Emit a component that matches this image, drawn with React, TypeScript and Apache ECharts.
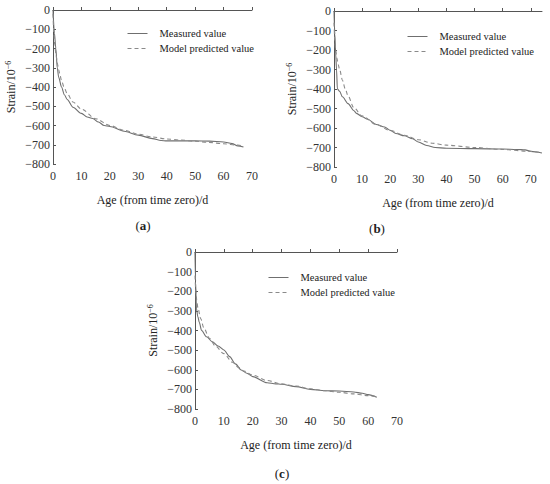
import React, { useEffect, useRef } from "react";
import * as echarts from "echarts";

// Panel (a)
const ageMeasA = [0, 0.5, 1, 1.5, 2, 3, 4, 5, 7, 10, 12, 14, 16, 18, 20, 25, 30, 35, 38, 40, 45, 50, 55, 60, 63, 65, 67];
const measuredA = [0, -120, -200, -300, -350, -400, -440, -465, -505, -537, -556, -564, -582, -600, -605, -630, -650, -668, -678, -680, -680, -680, -681, -686, -694, -706, -712];
const agePredA = [0, 0.3, 0.6, 1, 1.5, 2, 2.5, 3, 4, 5, 7, 10, 15, 20, 25, 30, 35, 40, 45, 50, 55, 60, 65, 67];
const predictedA = [-20, -120, -180, -225, -275, -310, -340, -368, -405, -435, -478, -515, -565, -600, -625, -645, -660, -670, -676, -682, -688, -695, -702, -706];

// Panel (b)
const ageMeasB = [0, 0.3, 0.6, 0.9, 1.2, 2, 3, 5, 7, 8, 10, 12, 15, 18, 20, 22, 25, 28, 30, 33, 36, 40, 50, 60, 65, 68, 70, 74];
const measuredB = [0, -120, -220, -300, -400, -412, -440, -475, -510, -525, -542, -555, -582, -595, -612, -628, -640, -655, -672, -690, -700, -704, -706, -708, -710, -712, -720, -728];
const agePredB = [0, 0.3, 0.6, 1, 1.5, 2, 3, 4, 5, 7, 10, 15, 20, 25, 30, 35, 40, 50, 60, 70, 73];
const predictedB = [-60, -150, -200, -240, -275, -300, -355, -400, -435, -495, -538, -582, -613, -637, -660, -678, -688, -700, -710, -720, -724];

// Panel (c)
const ageMeasC = [0, 0.2, 0.5, 1, 1.5, 2.3, 4, 6, 8, 10, 12, 14, 16, 18, 20, 25, 28, 30, 35, 40, 45, 50, 55, 58, 60, 63];
const measuredC = [0, -150, -290, -330, -360, -400, -432, -457, -479, -499, -533, -570, -601, -618, -635, -666, -672, -674, -686, -700, -707, -708, -713, -720, -727, -740];
const agePredC = [0, 0.3, 0.6, 1, 2, 3, 5, 7, 10, 13, 15, 17, 20, 25, 30, 35, 40, 45, 50, 55, 60, 63];
const predictedC = [-120, -200, -245, -285, -340, -385, -440, -478, -518, -562, -588, -607, -628, -655, -672, -683, -697, -707, -715, -723, -732, -737];

const xTicks = [0, 10, 20, 30, 40, 50, 60, 70];
const yTicks = [0, -100, -200, -300, -400, -500, -600, -700, -800];
const seriesNames = ["Measured value", "Model predicted value"];
const panelLabels = ["a", "b", "c"];
const xMaxes = [70, 74, 70];

const FONT = "'Liberation Serif', 'Times New Roman', Times, serif";

function zip(xs: number[], ys: number[]) {
  return xs.map((x, i) => [x, ys[i]]);
}

export default function App() {
  const ref = useRef<HTMLDivElement>(null);
  useEffect(() => {
    if (!ref.current) return;
    const chart = echarts.init(ref.current, null, { renderer: "svg" });

    const grids = [
      { left: 53, top: 10, width: 199, height: 154 },
      { left: 334, top: 11, width: 208, height: 156 },
      { left: 195, top: 252, width: 202, height: 157 },
    ];
    const legendPos = [
      { left: 127, top: 28 },
      { left: 407, top: 31 },
      { left: 268, top: 272 },
    ];
    const captionPos = [
      { x: 143, y: 225 },
      { x: 377, y: 228 },
      { x: 282, y: 473 },
    ];
    const data = [
      [zip(ageMeasA, measuredA), zip(agePredA, predictedA)],
      [zip(ageMeasB, measuredB), zip(agePredB, predictedB)],
      [zip(ageMeasC, measuredC), zip(agePredC, predictedC)],
    ];

    const axisLine = { show: true, lineStyle: { color: "#555", width: 1 } };
    const axisTick = { show: true, inside: true, length: 3, lineStyle: { color: "#555" } };
    const minus = (v: number) => String(v).replace("-", "\u2212");

    const xAxis = grids.map((_, i) => ({
      type: "value",
      gridIndex: i,
      min: 0,
      max: xMaxes[i],
      interval: 10,
      axisLine,
      axisTick,
      splitLine: { show: false },
      axisLabel: {
        margin: 6,
        fontFamily: FONT,
        fontSize: 12,
        color: "#333",
        showMaxLabel: xMaxes[i] === xTicks[xTicks.length - 1],
        formatter: (v: number) => (xTicks.includes(v) ? String(v) : ""),
      },
      name: "Age (from time zero)/d",
      nameLocation: "middle",
      nameGap: 30,
      nameTextStyle: { fontFamily: FONT, fontSize: 12, color: "#222" },
    }));

    const yAxis = grids.map((_, i) => ({
      type: "value",
      gridIndex: i,
      min: yTicks[yTicks.length - 1],
      max: yTicks[0],
      interval: 100,
      axisLine,
      axisTick,
      splitLine: { show: false },
      axisLabel: {
        margin: 3,
        fontFamily: FONT,
        fontSize: 12,
        color: "#333",
        formatter: (v: number) => minus(v),
      },
      name: "{a|Strain/10}{s|\u22126}",
      nameLocation: "middle",
      nameGap: 35,
      nameTextStyle: {
        fontFamily: FONT,
        color: "#222",
        rich: {
          a: { fontFamily: FONT, fontSize: 12, color: "#222" },
          s: { fontFamily: FONT, fontSize: 8, color: "#222", verticalAlign: "top", padding: [0, 0, 6, 0] },
        },
      },
    }));

    const series: any[] = [];
    grids.forEach((_, i) => {
      series.push({
        name: seriesNames[0],
        type: "line",
        xAxisIndex: i,
        yAxisIndex: i,
        data: data[i][0],
        symbol: "none",
        showSymbol: false,
        smooth: 0.3,
        smoothMonotone: "x",
        lineStyle: { color: "#6f6f6f", width: 1.1, type: "solid" },
        itemStyle: { color: "#6f6f6f" },
      });
      series.push({
        name: seriesNames[1],
        type: "line",
        xAxisIndex: i,
        yAxisIndex: i,
        data: data[i][1],
        symbol: "none",
        showSymbol: false,
        smooth: 0.3,
        smoothMonotone: "x",
        lineStyle: { color: "#8a8a8a", width: 1.1, type: [4, 3] },
        itemStyle: { color: "#8a8a8a" },
      });
    });

    const legend = legendPos.map((p) => ({
      left: p.left,
      top: p.top,
      padding: 0,
      orient: "vertical",
      itemWidth: 20,
      itemHeight: 12,
      itemGap: 4,
      selectedMode: false,
      data: seriesNames,
      itemStyle: { opacity: 0 },
      lineStyle: { width: 1 },
      textStyle: { fontFamily: FONT, fontSize: 10.5, color: "#222", padding: [0, 0, 0, 7] },
    }));

    const graphic = captionPos.map((p, i) => ({
      type: "text",
      x: p.x,
      y: p.y,
      style: {
        text: `({b|${panelLabels[i]}})`,
        fontFamily: FONT,
        fontSize: 13,
        fill: "#222",
        align: "center",
        verticalAlign: "middle",
        rich: { b: { fontFamily: FONT, fontSize: 13, fontWeight: "bold", fill: "#222" } },
      },
    }));

    chart.setOption({
      animation: false,
      backgroundColor: "#fff",
      grid: grids,
      xAxis,
      yAxis,
      legend,
      series,
      graphic,
    });
    return () => chart.dispose();
  }, []);

  return (
    <div
      ref={ref}
      style={{ position: "fixed", left: 0, top: 0, width: 550, height: 484, background: "#fff" }}
    />
  );
}
